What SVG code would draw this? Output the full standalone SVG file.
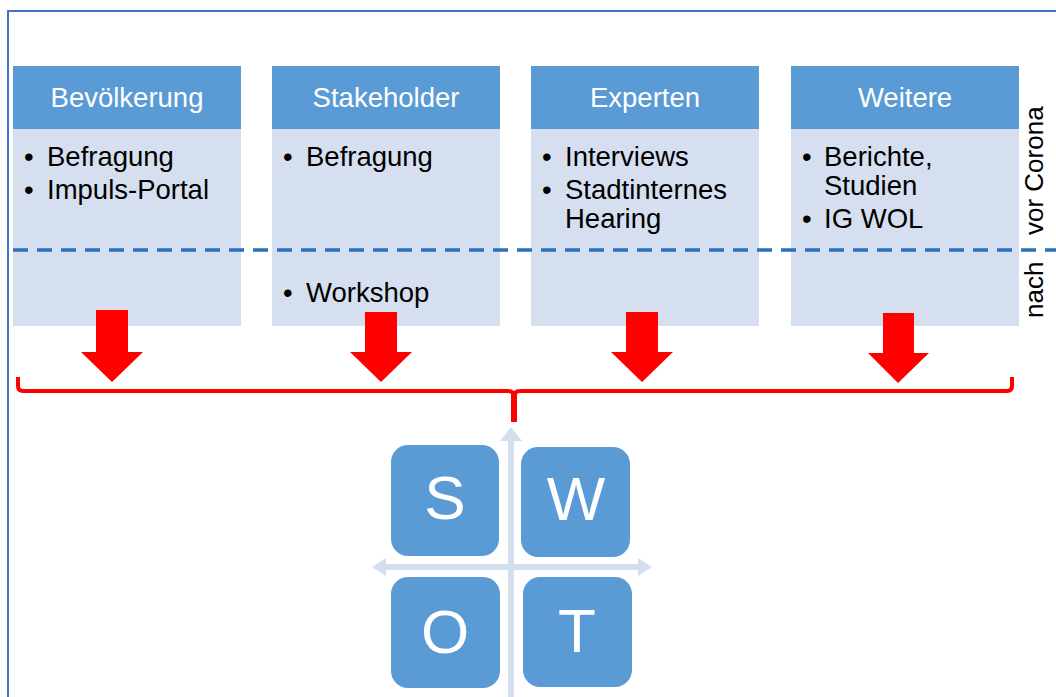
<svg xmlns="http://www.w3.org/2000/svg" width="1056" height="697" viewBox="0 0 1056 697">
  <style>
    .head { fill: #5B9BD5; }
    .body { fill: #D6DFEF; }
    .htxt { font-family: "Liberation Sans", Arial, sans-serif; font-size: 27.5px; fill: #FFFFFF; text-anchor: middle; }
    .btxt { font-family: "Liberation Sans", Arial, sans-serif; font-size: 27.5px; fill: #000000; }
    .side { font-family: "Liberation Sans", Arial, sans-serif; font-size: 26px; fill: #000000; }
    .arrow { fill: #FF0000; }
    .swot { fill: #5B9BD5; }
    .letter { font-family: "Liberation Sans", Arial, sans-serif; font-size: 62px; fill: #FFFFFF; text-anchor: middle; }
    .axis { fill: #D3DEEF; }
  </style>

  <rect width="1056" height="697" fill="#FFFFFF"/>

  <!-- outer frame -->
  <path d="M8,700 V11 H1060" fill="none" stroke="#4472C4" stroke-width="2"/>

  <!-- source columns -->
  <g id="bevoelkerung">
    <rect class="body" x="13" y="129" width="228" height="197"/>
    <rect class="head" x="13" y="66" width="228" height="63"/>
    <text class="htxt" x="127" y="107">Bevölkerung</text>
    <text class="btxt" x="24" y="166">•</text>
    <text class="btxt" x="47" y="166">Befragung</text>
    <text class="btxt" x="24" y="199">•</text>
    <text class="btxt" x="47" y="199">Impuls-Portal</text>
  </g>

  <g id="stakeholder">
    <rect class="body" x="272" y="129" width="228" height="197"/>
    <rect class="head" x="272" y="66" width="228" height="63"/>
    <text class="htxt" x="386" y="107">Stakeholder</text>
    <text class="btxt" x="283" y="166">•</text>
    <text class="btxt" x="306" y="166">Befragung</text>
    <text class="btxt" x="283" y="302">•</text>
    <text class="btxt" x="306" y="302">Workshop</text>
  </g>

  <g id="experten">
    <rect class="body" x="531" y="129" width="228" height="197"/>
    <rect class="head" x="531" y="66" width="228" height="63"/>
    <text class="htxt" x="645" y="107">Experten</text>
    <text class="btxt" x="542" y="166">•</text>
    <text class="btxt" x="565" y="166">Interviews</text>
    <text class="btxt" x="542" y="199">•</text>
    <text class="btxt" x="565" y="199">Stadtinternes</text>
    <text class="btxt" x="565" y="228">Hearing</text>
  </g>

  <g id="weitere">
    <rect class="body" x="791" y="129" width="228" height="197"/>
    <rect class="head" x="791" y="66" width="228" height="63"/>
    <text class="htxt" x="905" y="107">Weitere</text>
    <text class="btxt" x="802" y="166">•</text>
    <text class="btxt" x="824" y="166">Berichte,</text>
    <text class="btxt" x="824" y="195">Studien</text>
    <text class="btxt" x="802" y="228">•</text>
    <text class="btxt" x="824" y="228">IG WOL</text>
  </g>

  <!-- before / after divider -->
  <g id="divider">
    <line x1="13" y1="250" x2="1056" y2="250" stroke="#2A72BE" stroke-width="3.5" stroke-dasharray="15 9"/>
    <text class="side" transform="translate(1043,235) rotate(-90)">vor Corona</text>
    <text class="side" transform="translate(1043,318) rotate(-90)">nach</text>
  </g>

  <!-- flow into the analysis -->
  <g id="connectors">
    <path class="arrow" d="M96,310 H128 V352 H143 L112,382 L81,352 H96 Z"/>
    <path class="arrow" d="M365,312 H397 V352 H412 L381,382 L350,352 H365 Z"/>
    <path class="arrow" d="M626,312 H658 V352 H673 L642,382 L611,352 H626 Z"/>
    <path class="arrow" d="M883,313 H914 V353 H929 L898,383 L868,353 H883 Z"/>
    <path d="M18,377 V386 Q18,391 23,391 H508 Q514,391 514,397 M514,397 Q514,391 520,391 H1007 Q1012,391 1012,386 V377" fill="none" stroke="#FF0000" stroke-width="4"/>
    <rect x="511" y="394" width="6" height="28" fill="#FF0000"/>
  </g>

  <!-- SWOT matrix -->
  <g id="swot-axes">
    <rect class="axis" x="508" y="440" width="6" height="260"/>
    <path class="axis" d="M511,427 L522,441 H500 Z"/>
    <rect class="axis" x="384" y="564" width="256" height="6"/>
    <path class="axis" d="M372,567 L386,558 V576 Z"/>
    <path class="axis" d="M652,567 L638,558 V576 Z"/>
  </g>
  <g id="swot-s">
    <rect class="swot" x="391" y="445" width="108" height="111" rx="17"/>
    <text class="letter" x="445" y="519">S</text>
  </g>
  <g id="swot-w">
    <rect class="swot" x="521" y="447" width="109" height="110" rx="17"/>
    <text class="letter" x="576" y="520">W</text>
  </g>
  <g id="swot-o">
    <rect class="swot" x="391" y="577" width="109" height="111" rx="17"/>
    <text class="letter" x="445" y="653">O</text>
  </g>
  <g id="swot-t">
    <rect class="swot" x="523" y="577" width="109" height="110" rx="17"/>
    <text class="letter" x="577" y="652">T</text>
  </g>
</svg>
